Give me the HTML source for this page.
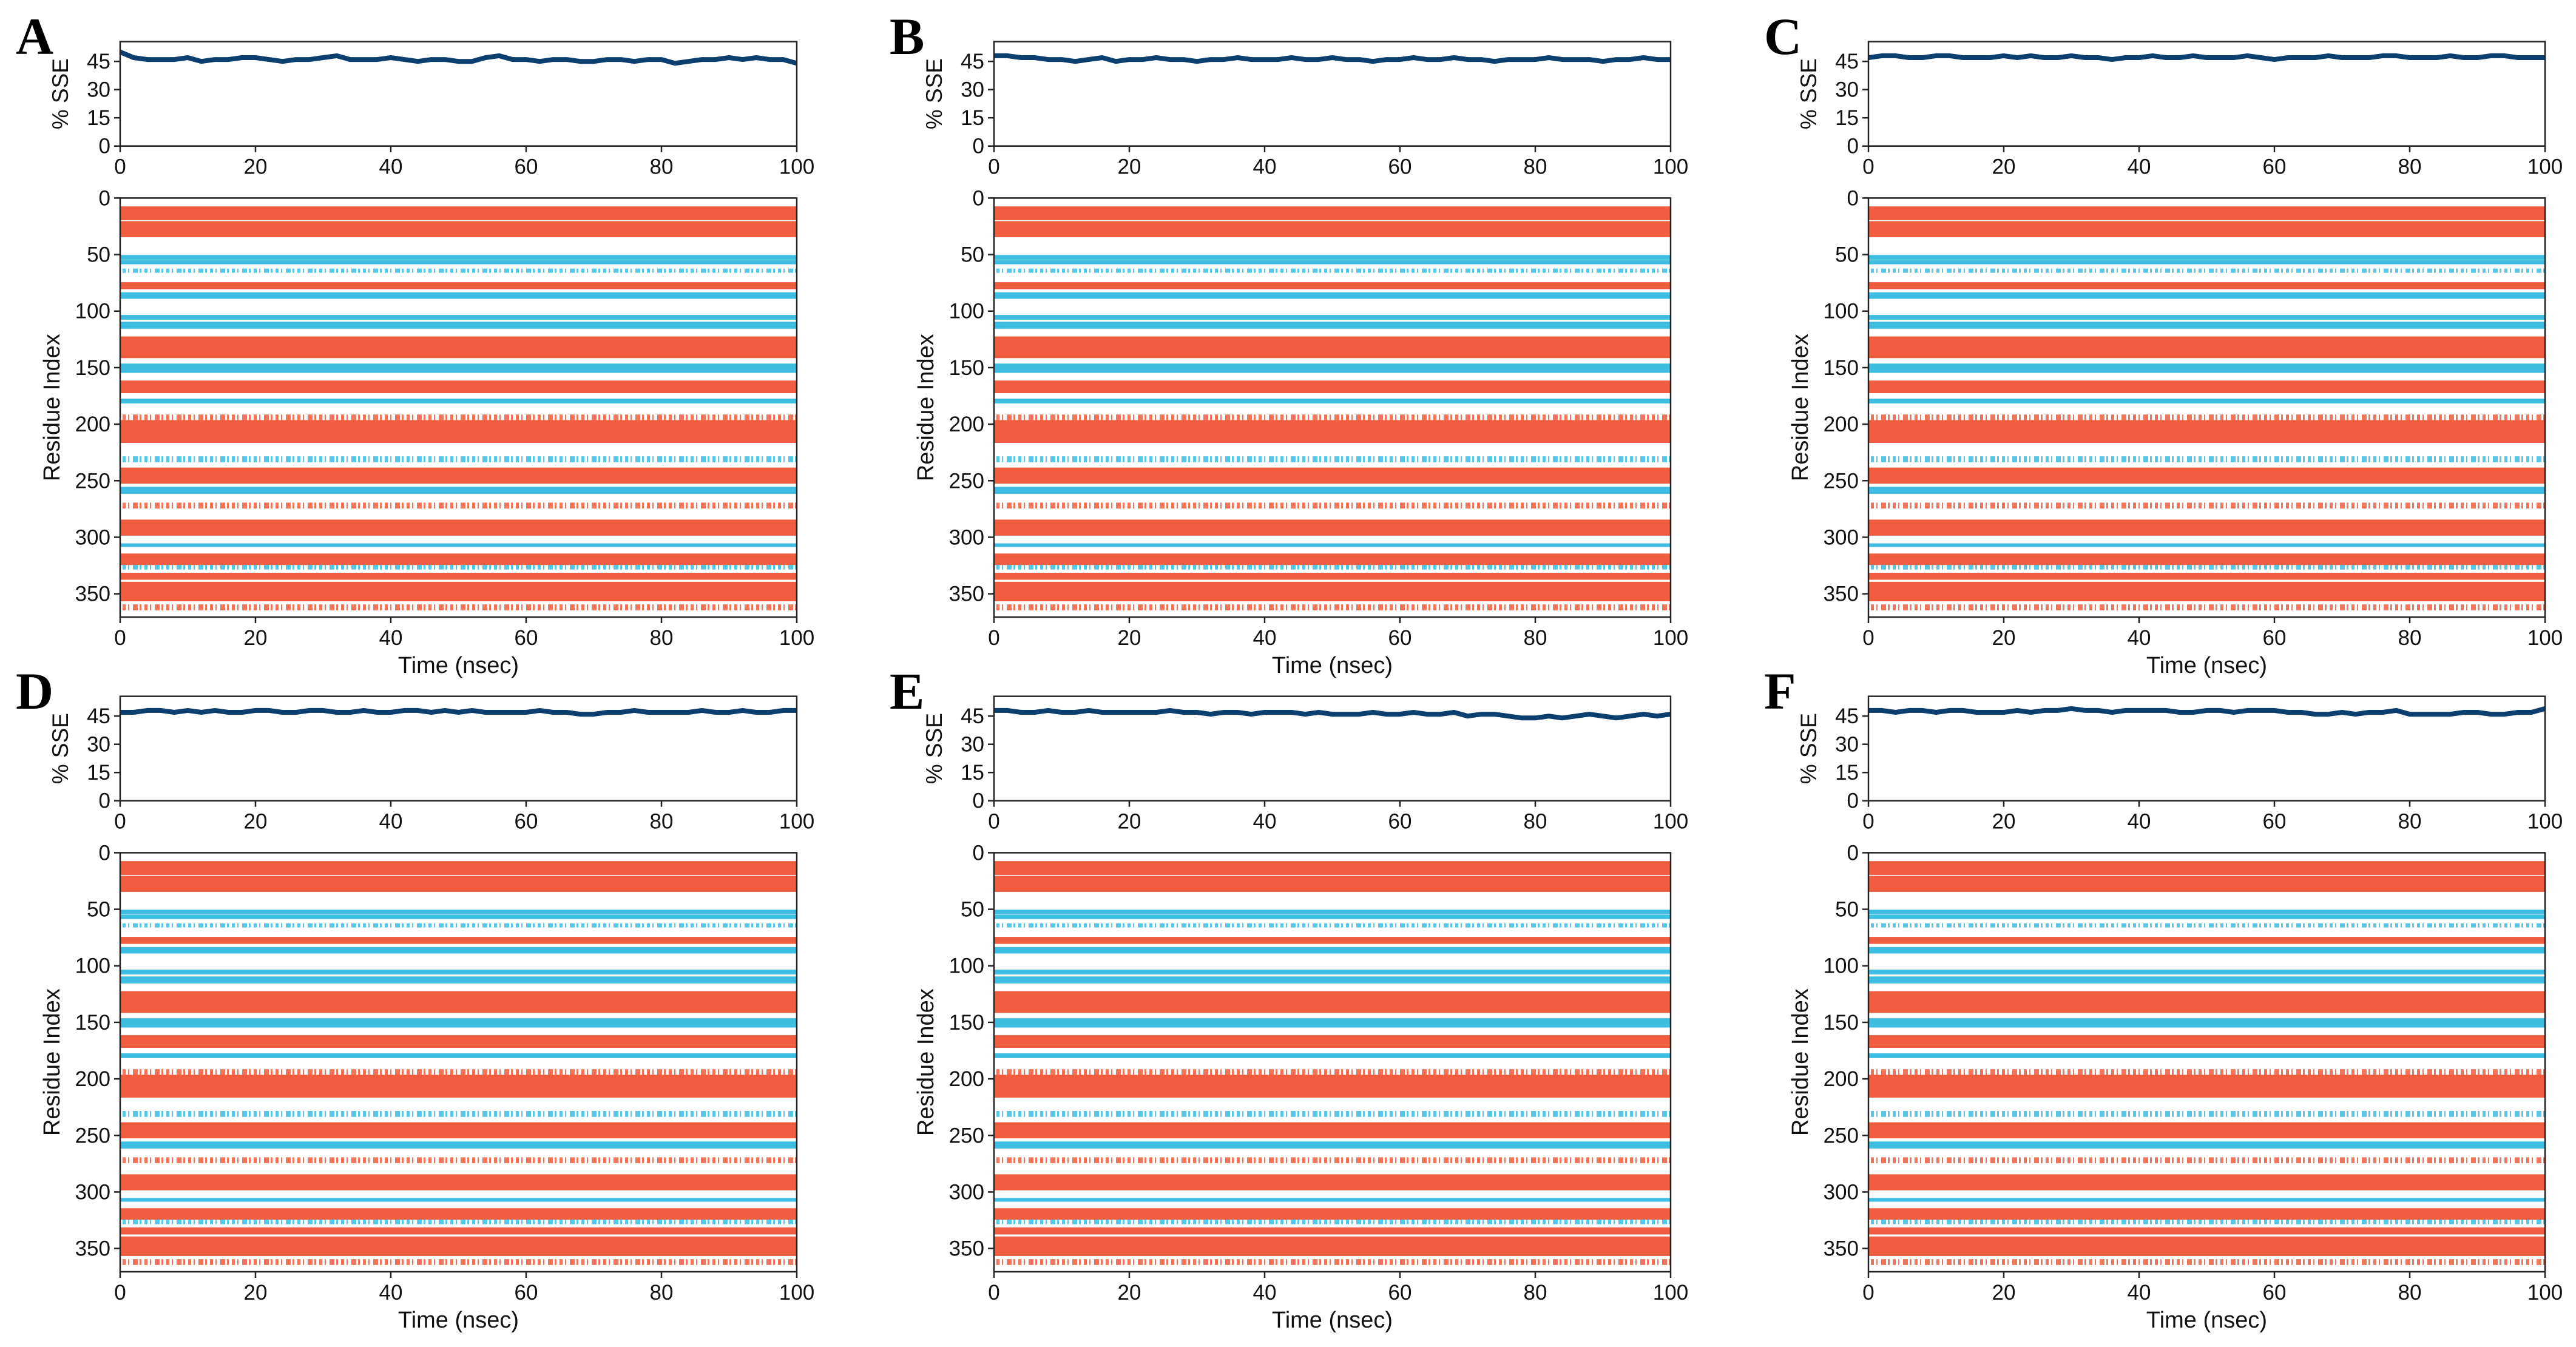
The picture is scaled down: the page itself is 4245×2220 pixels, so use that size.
<!DOCTYPE html>
<html><head><meta charset="utf-8">
<style>
html,body{margin:0;padding:0;background:#fff;}
svg{display:block;}
text{font-family:"Liberation Sans",sans-serif;fill:#111;}
.lbl{font-family:"Liberation Serif",serif;font-weight:bold;fill:#000;}
</style></head>
<body>
<svg id="fig" width="4245" height="2220" viewBox="0 0 4245 2220" xmlns="http://www.w3.org/2000/svg"></svg>
<script>
// ---- data ----
const panelLetters = ["A","B","C","D","E","F"];
const xTicks = [0,20,40,60,80,100];
const sseTicks = [0,15,30,45];
const resTicks = [0,50,100,150,200,250,300,350];
// SSE (%) sampled every 2 ns, 0..100
const sseA = [50,47,46,46,46,47,45,46,46,47,47,46,45,46,46,47,48,46,46,46,47,46,45,46,46,45,45,47,48,46,46,45,46,46,45,45,46,46,45,46,46,44,45,46,46,47,46,47,46,46,44];
const sseB = [48,48,47,47,46,46,45,46,47,45,46,46,47,46,46,45,46,46,47,46,46,46,47,46,46,47,46,46,45,46,46,47,46,46,47,46,46,45,46,46,46,47,46,46,46,45,46,46,47,46,46];
const sseC = [47,48,48,47,47,48,48,47,47,47,48,47,48,47,47,48,47,47,46,47,47,48,47,47,48,47,47,47,48,47,46,47,47,47,48,47,47,47,48,48,47,47,47,48,47,47,48,48,47,47,47];
const sseD = [47,47,48,48,47,48,47,48,47,47,48,48,47,47,48,48,47,47,48,47,47,48,48,47,48,47,48,47,47,47,47,48,47,47,46,46,47,47,48,47,47,47,47,48,47,47,48,47,47,48,48];
const sseE = [48,48,47,47,48,47,47,48,47,47,47,47,47,48,47,47,46,47,47,46,47,47,47,46,47,46,46,46,47,46,46,47,46,46,47,45,46,46,45,44,44,45,44,45,46,45,44,45,46,45,46];
const sseF = [48,48,47,48,48,47,48,48,47,47,47,48,47,48,48,49,48,48,47,48,48,48,48,47,47,48,48,47,48,48,48,47,47,46,46,47,46,47,47,48,46,46,46,46,47,47,46,46,47,47,49];
const sseSeries = [sseA,sseB,sseC,sseD,sseE,sseF];
// secondary-structure bands: residue start, residue end, type (h=helix, s=strand), solid(1) or sparse(0)
const bandStart = [8, 21, 51, 55.5, 63, 75, 84, 104, 110, 123, 147, 162, 178, 192, 197, 229, 239, 256, 270, 285, 306, 315, 325, 332, 340, 360];
const bandEnd   = [19, 34, 54, 58, 65.5, 80, 88.5, 107, 115, 141, 154, 172, 181, 196, 216, 233, 252, 261, 274, 298, 308, 324, 328, 337, 356, 364];
const bandType  = ["h","h","s","s","s","h","s","s","s","h","s","h","s","h","h","s","h","s","h","h","s","h","s","h","h","h"];
const bandSolid = [1,1,1,1,0,1,1,1,1,1,1,1,1,0,1,0,1,1,0,1,1,1,0,1,1,0];

// ---- layout ----
const colX = [198,1638,3079];
const rowY = [0,1079];
const W = 1115;
const sseTop = 68.6, sseBot = 240.7, sseMax = 55.5;
const hmTop = 326.4, hmBot = 1017, resMax = 370.6;
const PAD = 0.6;
const ORANGE = "#EF5D3E", BLUE = "#3CBDE1", NAVY = "#0B3F70";
const NS = "http://www.w3.org/2000/svg";
const svg = document.getElementById("fig");
function mk(tag, attrs, parent){
  const e = document.createElementNS(NS, tag);
  for (const k in attrs) e.setAttribute(k, attrs[k]);
  (parent||svg).appendChild(e);
  return e;
}
function txt(s, attrs, parent){ const t = mk("text", attrs, parent); t.textContent = s; return t; }

for (let p = 0; p < 6; p++) {
  const x0 = colX[p % 3], oy = rowY[Math.floor(p / 3)];
  const g = mk("g", {});
  
  
  const xs = v => x0 + v / 100 * W;
  const ySse = v => oy + sseBot - v / sseMax * (sseBot - sseTop);
  const yRes = r => oy + hmTop + r / resMax * (hmBot - hmTop);

  const L = txt(panelLetters[p], {x: x0 - 172, y: oy + 89, class: "lbl", "font-size": 86}, g);
  
  

  // ---- SSE plot ----
  const vals = sseSeries[p];
  const pts = vals.map((v, i) => xs(i * 100 / (vals.length - 1)).toFixed(1) + "," + ySse(v).toFixed(1)).join(" ");
  const line = mk("polyline", {points: pts, fill: "none", stroke: NAVY, "stroke-width": 8, "stroke-linejoin": "round"}, g);
  
  
  const f1 = mk("rect", {x: x0, y: oy + sseTop, width: W, height: sseBot - sseTop, fill: "none", stroke: "#222", "stroke-width": 2.5}, g);
  
  
  sseTicks.forEach(t => {
    const y = ySse(t);
    mk("line", {x1: x0 - 10, x2: x0, y1: y, y2: y, stroke: "#222", "stroke-width": 2.5}, g);
    const tl = txt(String(t), {x: x0 - 16, y: y + 12, "font-size": 35, "text-anchor": "end"}, g);
    
    
  });
  xTicks.forEach(t => {
    const x = xs(t);
    mk("line", {x1: x, x2: x, y1: oy + sseBot, y2: oy + sseBot + 10, stroke: "#222", "stroke-width": 2.5}, g);
    const tl = txt(String(t), {x: x, y: oy + sseBot + 46, "font-size": 35, "text-anchor": "middle"}, g);
    
    
  });
  const yl = txt("% SSE", {x: 0, y: 0, "font-size": 37, "text-anchor": "middle", transform: `translate(${x0 - 86},${oy + (sseTop + sseBot) / 2}) rotate(-90)`}, g);
  
  

  // ---- residue heatmap ----
  for (let b = 0; b < bandStart.length; b++) {
    const y1 = yRes(bandStart[b] - PAD), y2 = yRes(bandEnd[b] + PAD);
    const col = bandType[b] === "h" ? ORANGE : BLUE;
    let r;
    if (bandSolid[b]) {
      r = mk("rect", {x: x0, y: y1, width: W, height: y2 - y1, fill: col}, g);
    } else {
      r = mk("line", {x1: x0 + 4, x2: x0 + W, y1: (y1 + y2) / 2, y2: (y1 + y2) / 2, stroke: col, "stroke-width": y2 - y1, "stroke-dasharray": "5 4 2 6 8 3 3 5", opacity: 0.85}, g);
    }
    
    
  }
  const f2 = mk("rect", {x: x0, y: oy + hmTop, width: W, height: hmBot - hmTop, fill: "none", stroke: "#222", "stroke-width": 2.5}, g);
  
  
  resTicks.forEach(t => {
    const y = yRes(t);
    mk("line", {x1: x0 - 10, x2: x0, y1: y, y2: y, stroke: "#222", "stroke-width": 2.5}, g);
    const tl = txt(String(t), {x: x0 - 16, y: y + 12, "font-size": 35, "text-anchor": "end"}, g);
    
    
  });
  xTicks.forEach(t => {
    const x = xs(t);
    mk("line", {x1: x, x2: x, y1: oy + hmBot, y2: oy + hmBot + 10, stroke: "#222", "stroke-width": 2.5}, g);
    const tl = txt(String(t), {x: x, y: oy + hmBot + 46, "font-size": 35, "text-anchor": "middle"}, g);
    
    
  });
  const xl = txt("Time (nsec)", {x: x0 + W / 2, y: oy + hmBot + 92, "font-size": 38, "text-anchor": "middle"}, g);
  
  
  const rl = txt("Residue Index", {x: 0, y: 0, "font-size": 38, "text-anchor": "middle", transform: `translate(${x0 - 100},${oy + (hmTop + hmBot) / 2}) rotate(-90)`}, g);
  
  
}
</script>
</body></html>
